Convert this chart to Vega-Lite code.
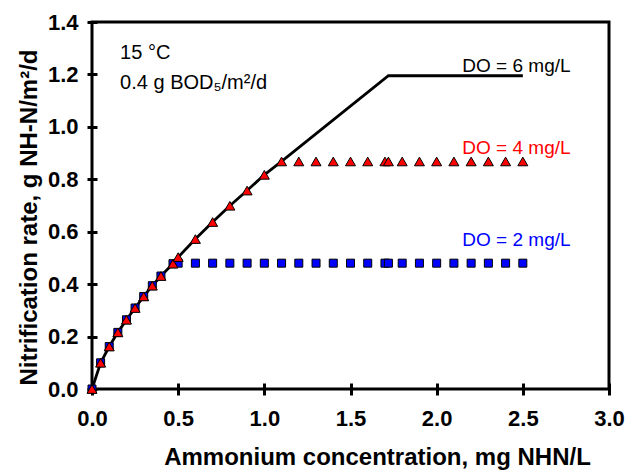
{
  "$schema": "https://vega.github.io/schema/vega-lite/v6.json",
  "width": 517,
  "height": 367,
  "autosize": {"type": "none"},
  "padding": {"left": 92, "top": 22, "right": 23, "bottom": 81},
  "background": "white",
  "config": {
    "view": {"stroke": "black", "strokeWidth": 3},
    "font": "Liberation Sans"
  },
  "datasets": {
    "do2": [
      {"x": 0, "y": 0}, {"x": 0.05, "y": 0.1}, {"x": 0.1, "y": 0.162}, {"x": 0.15, "y": 0.216},
      {"x": 0.2, "y": 0.264}, {"x": 0.25, "y": 0.309}, {"x": 0.3, "y": 0.353}, {"x": 0.35, "y": 0.394},
      {"x": 0.4, "y": 0.431}, {"x": 0.47, "y": 0.478}, {"x": 0.5, "y": 0.48}, {"x": 0.6, "y": 0.48},
      {"x": 0.7, "y": 0.48}, {"x": 0.8, "y": 0.48}, {"x": 0.9, "y": 0.48}, {"x": 1.0, "y": 0.48},
      {"x": 1.1, "y": 0.48}, {"x": 1.2, "y": 0.48}, {"x": 1.3, "y": 0.48}, {"x": 1.4, "y": 0.48},
      {"x": 1.5, "y": 0.48}, {"x": 1.6, "y": 0.48}, {"x": 1.7, "y": 0.48}, {"x": 1.72, "y": 0.48},
      {"x": 1.8, "y": 0.48}, {"x": 1.9, "y": 0.48}, {"x": 2.0, "y": 0.48}, {"x": 2.1, "y": 0.48},
      {"x": 2.2, "y": 0.48}, {"x": 2.3, "y": 0.48}, {"x": 2.4, "y": 0.48}, {"x": 2.5, "y": 0.48}
    ],
    "do4": [
      {"x": 0, "y": 0}, {"x": 0.05, "y": 0.1}, {"x": 0.1, "y": 0.162}, {"x": 0.15, "y": 0.216},
      {"x": 0.2, "y": 0.264}, {"x": 0.25, "y": 0.309}, {"x": 0.3, "y": 0.353}, {"x": 0.35, "y": 0.394},
      {"x": 0.4, "y": 0.431}, {"x": 0.47, "y": 0.478}, {"x": 0.5, "y": 0.503}, {"x": 0.6, "y": 0.572},
      {"x": 0.7, "y": 0.637}, {"x": 0.8, "y": 0.699}, {"x": 0.9, "y": 0.757}, {"x": 1.0, "y": 0.817},
      {"x": 1.1, "y": 0.868}, {"x": 1.2, "y": 0.868}, {"x": 1.3, "y": 0.868}, {"x": 1.4, "y": 0.868},
      {"x": 1.5, "y": 0.868}, {"x": 1.6, "y": 0.868}, {"x": 1.7, "y": 0.868}, {"x": 1.72, "y": 0.868},
      {"x": 1.8, "y": 0.868}, {"x": 1.9, "y": 0.868}, {"x": 2.0, "y": 0.868}, {"x": 2.1, "y": 0.868},
      {"x": 2.2, "y": 0.868}, {"x": 2.3, "y": 0.868}, {"x": 2.4, "y": 0.868}, {"x": 2.5, "y": 0.868}
    ],
    "do6": [
      {"x": 0, "y": 0}, {"x": 0.05, "y": 0.1}, {"x": 0.1, "y": 0.162}, {"x": 0.15, "y": 0.216},
      {"x": 0.2, "y": 0.264}, {"x": 0.25, "y": 0.309}, {"x": 0.3, "y": 0.353}, {"x": 0.35, "y": 0.394},
      {"x": 0.4, "y": 0.431}, {"x": 0.47, "y": 0.478}, {"x": 0.5, "y": 0.503}, {"x": 0.6, "y": 0.572},
      {"x": 0.7, "y": 0.637}, {"x": 0.8, "y": 0.699}, {"x": 0.9, "y": 0.757}, {"x": 1.0, "y": 0.817},
      {"x": 1.1, "y": 0.868}, {"x": 1.72, "y": 1.195}, {"x": 2.5, "y": 1.195}
    ],
    "notes": [
      {"x": 0.163, "y": 1.281, "text": "15 °C"},
      {"x": 0.163, "y": 1.168, "text": "0.4 g BOD₅/m²/d"}
    ],
    "dolabels": [
      {"x": 2.777, "y": 1.233, "text": "DO = 6 mg/L", "series": "DO6"},
      {"x": 2.777, "y": 0.919, "text": "DO = 4 mg/L", "series": "DO4"},
      {"x": 2.777, "y": 0.569, "text": "DO = 2 mg/L", "series": "DO2"}
    ]
  },
  "encoding": {
    "x": {
      "field": "x", "type": "quantitative",
      "scale": {"domain": [0, 3], "nice": false, "zero": false},
      "axis": {
        "title": "Ammonium concentration, mg NHN/L",
        "values": [0, 0.5, 1, 1.5, 2, 2.5, 3],
        "format": ".1f",
        "grid": false, "domain": false,
        "offset": -6, "tickSize": 12, "tickWidth": 3, "tickColor": "black",
        "labelFont": "Liberation Sans", "labelFontSize": 22, "labelFontWeight": "bold", "labelColor": "black",
        "labelPadding": 13, "labelFlush": false, "labelOverlap": false,
        "titleFont": "Liberation Sans", "titleFontSize": 24, "titleFontWeight": "bold", "titleColor": "black",
        "titleX": 285, "titleY": 74, "titleBaseline": "middle", "titleAlign": "center"
      }
    },
    "y": {
      "field": "y", "type": "quantitative",
      "scale": {"domain": [0, 1.4], "nice": false},
      "axis": {
        "title": "Nitrification rate, g NH-N/m²/d",
        "values": [0, 0.2, 0.4, 0.6, 0.8, 1.0, 1.2, 1.4],
        "format": ".1f",
        "grid": false, "domain": false,
        "offset": -5, "tickSize": 10, "tickWidth": 3, "tickColor": "black",
        "labelFont": "Liberation Sans", "labelFontSize": 22, "labelFontWeight": "bold", "labelColor": "black",
        "labelPadding": 9, "labelFlush": false, "labelOverlap": false,
        "titleFont": "Liberation Sans", "titleFontSize": 24, "titleFontWeight": "bold", "titleColor": "black",
        "titleX": -68, "titleY": 195, "titleBaseline": "middle", "titleAlign": "center"
      }
    }
  },
  "layer": [
    {
      "data": {"name": "do6"},
      "mark": {"type": "line", "color": "black", "strokeWidth": 2.8}
    },
    {
      "data": {"name": "do2"},
      "mark": {"type": "point", "shape": "square", "filled": true, "fill": "#0000ff", "stroke": "black", "strokeWidth": 1, "size": 64, "opacity": 1}
    },
    {
      "data": {"name": "do4"},
      "mark": {"type": "point", "shape": "triangle-up", "filled": true, "fill": "#ff0000", "stroke": "black", "strokeWidth": 1, "size": 100, "opacity": 1}
    },
    {
      "data": {"name": "notes"},
      "mark": {"type": "text", "align": "left", "baseline": "middle", "fontSize": 20, "font": "Liberation Sans", "color": "black"},
      "encoding": {"text": {"field": "text"}}
    },
    {
      "data": {"name": "dolabels"},
      "mark": {"type": "text", "align": "right", "baseline": "middle", "fontSize": 19, "font": "Liberation Sans"},
      "encoding": {
        "text": {"field": "text"},
        "color": {"field": "series", "type": "nominal", "scale": {"domain": ["DO6", "DO4", "DO2"], "range": ["black", "#ff0000", "#0000ff"]}, "legend": null}
      }
    }
  ]
}
